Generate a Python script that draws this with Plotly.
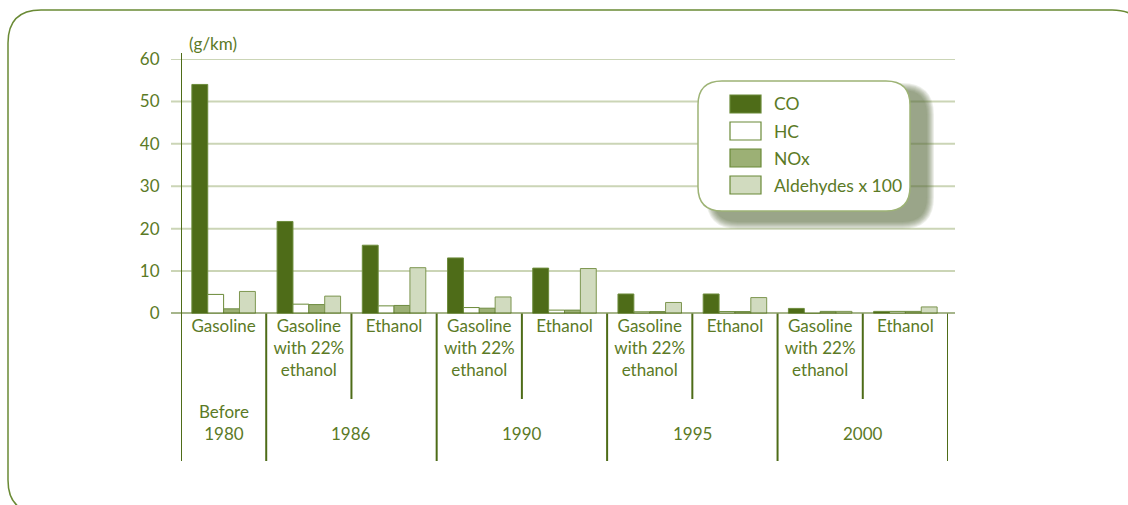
import plotly.graph_objects as go

W, H = 1128, 505

# ---------------- data ----------------
categories = ["Gasoline", "Gasoline<br>with 22%<br>ethanol", "Ethanol",
              "Gasoline<br>with 22%<br>ethanol", "Ethanol",
              "Gasoline<br>with 22%<br>ethanol", "Ethanol",
              "Gasoline<br>with 22%<br>ethanol", "Ethanol"]
periods = ["Before<br>1980", "1986", "1990", "1995", "2000"]
period_centers = [0, 1.5, 3.5, 5.5, 7.5]
series_names = ["CO", "HC", "NOx", "Aldehydes x 100"]
co = [54.0, 21.7, 16.1, 13.1, 10.7, 4.6, 4.6, 1.2, 0.5]
hc = [4.5, 2.2, 1.8, 1.4, 0.8, 0.4, 0.45, 0.0, 0.5]
nox = [1.1, 2.1, 1.9, 1.25, 0.8, 0.45, 0.45, 0.5, 0.5]
ald = [5.2, 4.1, 10.8, 3.9, 10.6, 2.6, 3.75, 0.5, 1.55]
y_ticks = [0, 10, 20, 30, 40, 50, 60]
unit_label = "(g/km)"

# ---------------- style ----------------
TXT = "#5b7a26"
DARK = "#4e6c18"
fills = ["#4e6c18", "#ffffff", "#9cb075", "#d1dbbf"]
outlines = ["#6d8c3c", "#6a8a38", "#6e8b40", "#7d9650"]
GRID = "#cbd5b6"
FONT = "Lato"
FS = 17

X0_PX, X1_PX = 181, 948
Y0_PX, Y60_PX = 313.5, 59


def px(x, y):
    return x / W, 1 - y / H


def rrect(x0, y0, x1, y1, r):
    def P(x, y):
        a, b = px(x, y)
        return f"{a:.5f},{b:.5f}"
    return (f"M {P(x0 + r, y0)} L {P(x1 - r, y0)} Q {P(x1, y0)} {P(x1, y0 + r)} "
            f"L {P(x1, y1 - r)} Q {P(x1, y1)} {P(x1 - r, y1)} "
            f"L {P(x0 + r, y1)} Q {P(x0, y1)} {P(x0, y1 - r)} "
            f"L {P(x0, y0 + r)} Q {P(x0, y0)} {P(x0 + r, y0)} Z")


fig = go.Figure()
xs = list(range(len(categories)))
for name, vals, fc, lc in zip(series_names, [co, hc, nox, ald], fills, outlines):
    fig.add_trace(go.Bar(x=xs, y=vals, name=name, marker=dict(color=fc, line=dict(color=lc, width=1)),
                         showlegend=False))

shapes = []
# outer rounded panel
shapes.append(dict(type="path", xref="paper", yref="paper", path=rrect(8, 10, 1145, 513, 33),
                   line=dict(color="#6a8a35", width=1.5), fillcolor="rgba(0,0,0,0)", layer="below"))
# gridlines
gx0, _ = px(171, 0)
gx1, _ = px(955, 0)
for t in y_ticks[1:]:
    shapes.append(dict(type="line", xref="paper", yref="y", x0=gx0, x1=gx1, y0=t, y1=t,
                       line=dict(color=GRID, width=2), layer="below"))
# baseline
shapes.append(dict(type="line", xref="paper", yref="y", x0=gx0, x1=gx1, y0=0, y1=0,
                   line=dict(color=DARK, width=2), layer="above"))
# y axis line
_, ya = px(0, 53)
_, yb = px(0, 461)
shapes.append(dict(type="line", xref="x", yref="paper", x0=-0.5, x1=-0.5, y0=ya, y1=yb,
                   line=dict(color=DARK, width=2), layer="above"))
# separators
_, ys0 = px(0, 313.5)
_, ys_short = px(0, 399)
for i in range(1, len(categories) + 1):
    xb = i - 0.5
    long = i in (1, 3, 5, 7, 9)
    shapes.append(dict(type="line", xref="x", yref="paper", x0=xb, x1=xb, y0=ys0,
                       y1=yb if long else ys_short,
                       line=dict(color=DARK, width=2), layer="above"))

# legend shadow
for k in range(8):
    e = 8 - k
    shapes.append(dict(type="path", xref="paper", yref="paper",
                       path=rrect(698 + 16 - e, 81 + 10 - e, 910 + 16 + e, 211 + 10 + e, 24 + e),
                       line=dict(width=0), fillcolor="rgba(95,112,60,0.11)", layer="above"))
# legend box
shapes.append(dict(type="path", xref="paper", yref="paper", path=rrect(698, 81, 910, 211, 24),
                   line=dict(color="#9db375", width=1.5), fillcolor="#ffffff", layer="above"))
annotations = []
for j, (name, fc, lc) in enumerate(zip(series_names, fills, outlines)):
    cy = 104 + 27 * j
    a0, b0 = px(730, cy - 9)
    a1, b1 = px(761, cy + 9)
    shapes.append(dict(type="rect", xref="paper", yref="paper", x0=a0, x1=a1, y0=b1, y1=b0,
                       fillcolor=fc, line=dict(color="#6a8a38", width=1.2), layer="above"))
    ta, tb = px(772, cy)
    annotations.append(dict(xref="paper", yref="paper", x=ta, y=tb, text=name, showarrow=False,
                            xanchor="left", yanchor="middle", font=dict(family=FONT, size=17.5, color=TXT)))

# unit label
ua, ub = px(187, 44)
annotations.append(dict(xref="paper", yref="paper", x=ua, y=ub, text=unit_label, showarrow=False,
                        xanchor="left", yanchor="middle", font=dict(family=FONT, size=17, color=TXT)))
# period labels
for lab, cx in zip(periods, period_centers):
    if "<br>" in lab:
        _, py_ = px(0, 422)
    else:
        _, py_ = px(0, 433)
    annotations.append(dict(xref="x", yref="paper", x=cx, y=py_, text=lab, showarrow=False,
                            xanchor="center", yanchor="middle", font=dict(family=FONT, size=FS, color=TXT)))

xd0, yd0 = px(X0_PX, Y0_PX)
xd1, yd1 = px(X1_PX, Y60_PX)

fig.update_layout(
    template="none",
    width=W, height=H, margin=dict(l=0, r=0, t=0, b=0, pad=0), autosize=False,
    paper_bgcolor="white", plot_bgcolor="rgba(0,0,0,0)",
    barmode="group", bargap=0.255, bargroupgap=0, showlegend=False,
    font=dict(family=FONT, size=FS, color=TXT),
    xaxis=dict(domain=[xd0, xd1], range=[-0.5, len(categories) - 0.5], tickvals=xs, ticktext=categories,
               showgrid=False, zeroline=False, showline=False, ticks="",
               automargin=False,
               tickfont=dict(family=FONT, size=FS, color=TXT)),
    yaxis=dict(domain=[yd0, yd1], range=[0, 60], tickvals=y_ticks, showgrid=False, zeroline=False,
               showline=False, ticks="outside", ticklen=17, tickcolor="rgba(0,0,0,0)",
               automargin=False,
               tickfont=dict(family=FONT, size=FS, color=TXT)),
    shapes=shapes, annotations=annotations,
)
fig.write_html("out.html", config={"displayModeBar": False},
               post_script="document.body.style.margin='0';document.body.style.overflow='hidden';")
